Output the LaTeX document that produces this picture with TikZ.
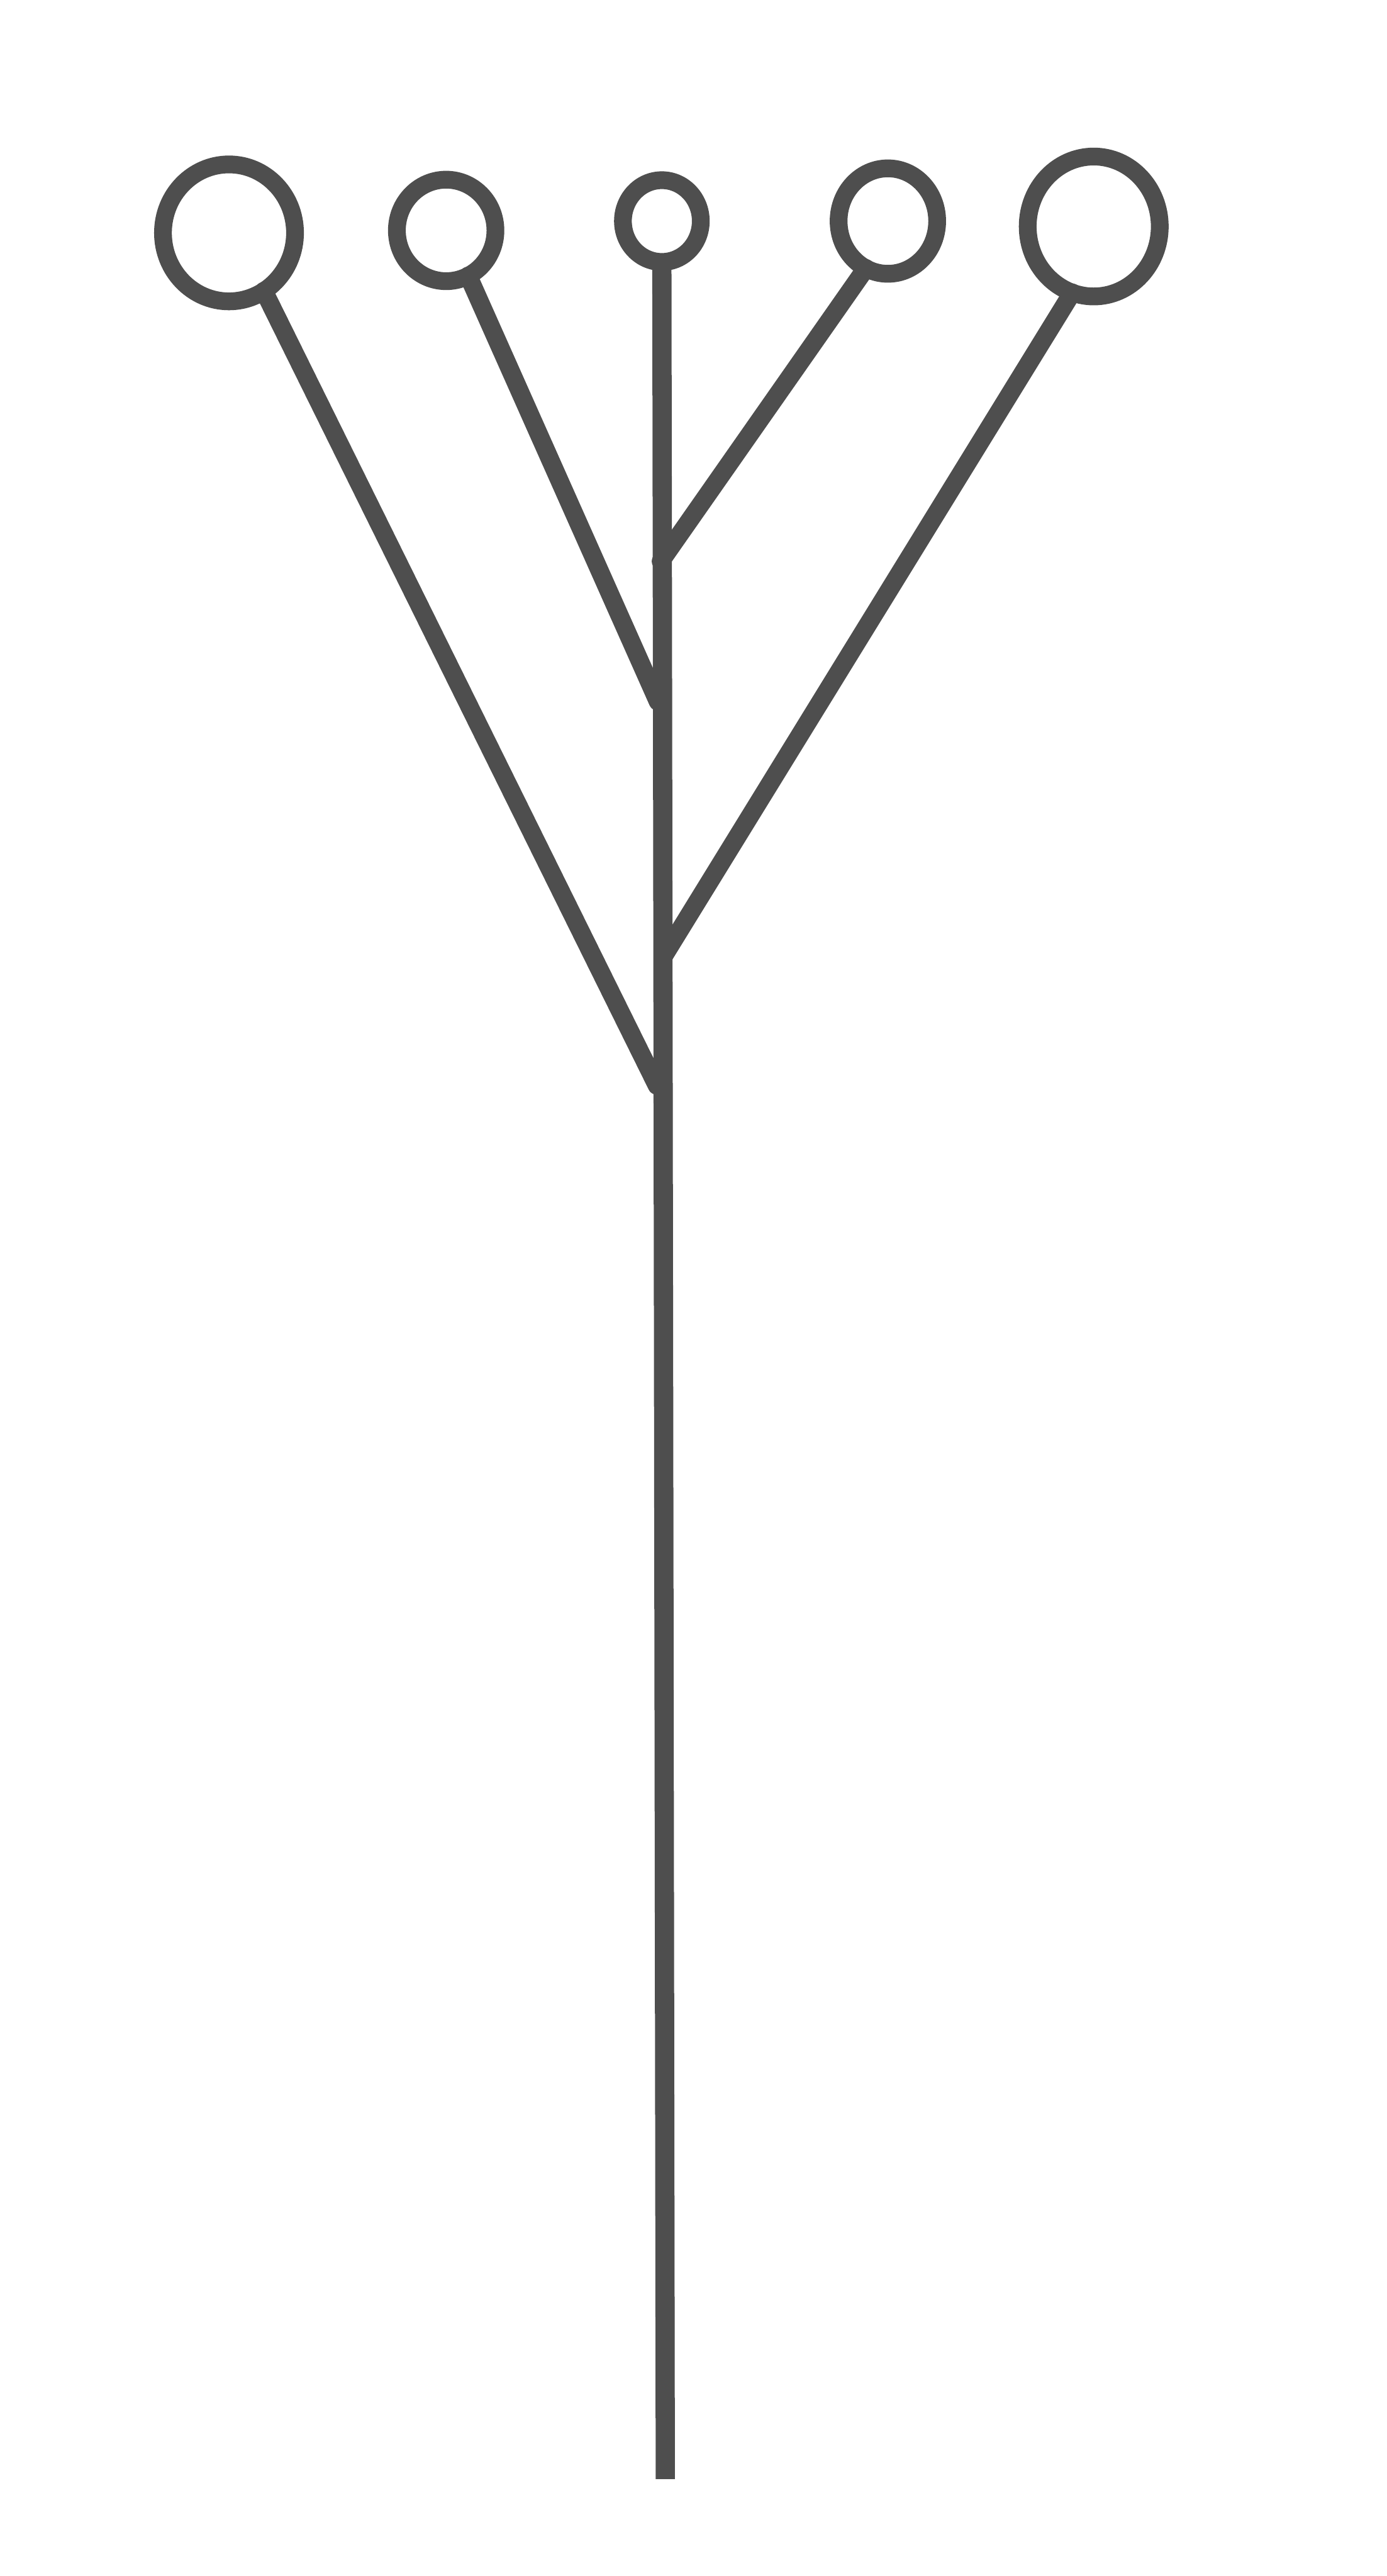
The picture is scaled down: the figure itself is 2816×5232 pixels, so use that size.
\documentclass[tikz,border=0pt]{standalone}
\usetikzlibrary{shapes.geometric}
\definecolor{ink}{RGB}{78,78,78}
\begin{document}
\begin{tikzpicture}[x=0.01cm,y=-0.01cm,
  bulb/.style={ellipse,draw=ink,line width=0.36cm,inner sep=0pt,outer sep=0pt},
  stem/.style={draw=ink,line width=0.39cm},
  twig/.style={draw=ink,line width=0.37cm,line cap=round}]
\useasboundingbox[fill=white] (0,0) rectangle (2816,5232);
\node[bulb,minimum width=2.68cm,minimum height=2.78cm] (c1) at (465,473) {};
\node[bulb,minimum width=2.00cm,minimum height=2.06cm] (c2) at (906,468) {};
\node[bulb,minimum width=1.58cm,minimum height=1.66cm] (c3) at (1344,449) {};
\node[bulb,minimum width=2.00cm,minimum height=2.14cm] (c4) at (1803,449) {};
\node[bulb,minimum width=2.68cm,minimum height=2.84cm] (c5) at (2221,460) {};
\coordinate (bot) at (1351,5035);
\coordinate (j4) at (1342,1140);
\coordinate (j2) at (1336,1425);
\coordinate (j5) at (1346,1945);
\coordinate (j1) at (1334,2205);
\draw[stem] (c3.south) -- (bot);
\draw[twig] (c1.-59) -- (j1);
\draw[twig] (c2.-64) -- (j2);
\draw[twig] (c4.-115) -- (j4);
\draw[twig] (c5.-108) -- (j5);
\end{tikzpicture}
\end{document}
